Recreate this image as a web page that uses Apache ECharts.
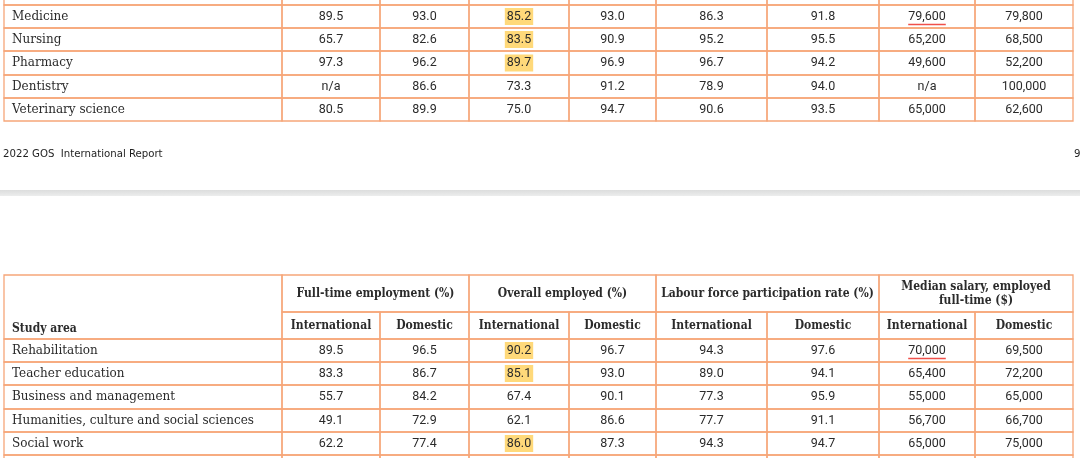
<!DOCTYPE html>
<html>
<head>
<meta charset="utf-8">
<script src="https://cdn.jsdelivr.net/npm/echarts@6/dist/echarts.min.js"></script>
<style>
  html, body { margin: 0; padding: 0; background: #fff; }
  #main { width: 1080px; height: 458px; }
</style>
</head>
<body>
<div id="main"></div>
<script>
/* global echarts */

// ---- data: end of previous table (top) ----
const topAreas = ['Medicine', 'Nursing', 'Pharmacy', 'Dentistry', 'Veterinary science'];
const topFtIntl = ['89.5', '65.7', '97.3', 'n/a', '80.5'];
const topFtDom = ['93.0', '82.6', '96.2', '86.6', '89.9'];
const topOeIntl = ['85.2', '83.5', '89.7', '73.3', '75.0'];
const topOeDom = ['93.0', '90.9', '96.9', '91.2', '94.7'];
const topLfIntl = ['86.3', '95.2', '96.7', '78.9', '90.6'];
const topLfDom = ['91.8', '95.5', '94.2', '94.0', '93.5'];
const topSalIntl = ['79,600', '65,200', '49,600', 'n/a', '65,000'];
const topSalDom = ['79,800', '68,500', '52,200', '100,000', '62,600'];
const topHighlight = [0, 1, 2];
const topUnderline = [0];

// ---- data: next table (bottom) ----
const groupHeaders = ['Full-time employment (%)', 'Overall employed (%)', 'Labour force participation rate (%)', 'Median salary, employed\nfull-time ($)'];
const subHeaders = ['International', 'Domestic'];
const bottomAreas = ['Rehabilitation', 'Teacher education', 'Business and management', 'Humanities, culture and social sciences', 'Social work'];
const botFtIntl = ['89.5', '83.3', '55.7', '49.1', '62.2'];
const botFtDom = ['96.5', '86.7', '84.2', '72.9', '77.4'];
const botOeIntl = ['90.2', '85.1', '67.4', '62.1', '86.0'];
const botOeDom = ['96.7', '93.0', '90.1', '86.6', '87.3'];
const botLfIntl = ['94.3', '89.0', '77.3', '77.7', '94.3'];
const botLfDom = ['97.6', '94.1', '95.9', '91.1', '94.7'];
const botSalIntl = ['70,000', '65,400', '55,000', '56,700', '65,000'];
const botSalDom = ['69,500', '72,200', '65,000', '66,700', '75,000'];
const bottomHighlight = [0, 1, 4];
const bottomUnderline = [0];

// ---- layout ----
const colEdges = [4, 282, 380, 469, 569, 656, 767, 879, 975, 1073];
const topRowEdges = [-20, 5, 28, 51, 75, 98, 121];
const bottomRowEdges = [275, 312, 339, 362, 385, 409, 432, 455, 490];

const BORDER = '#f6a679';
const TEXT = '#2b2b2b';
const SERIF = '"DejaVu Serif", serif';
const SERIF_HEAD = '"DejaVu Serif Condensed", "DejaVu Serif", serif';
const SANS = 'Roboto, "Liberation Sans", sans-serif';

const measureCtx = document.createElement('canvas').getContext('2d');
function textWidth (text, font) {
  measureCtx.font = font;
  return measureCtx.measureText(text).width;
}

// item: [col, row, colSpan, rowSpan, text, kind]
function bodyItems (areas, cols, firstRow, hl, ul) {
  const items = [];
  areas.forEach(function (area, i) {
    items.push([0, firstRow + i, 1, 1, area, 'label']);
    cols.forEach(function (col, c) {
      let kind = 'num';
      if (c === 2 && hl.indexOf(i) >= 0) kind = 'hl';
      if (c === 6 && ul.indexOf(i) >= 0) kind = 'ul';
      items.push([c + 1, firstRow + i, 1, 1, col[i], kind]);
    });
  });
  return items;
}

const topItems = [];
for (let c = 0; c < 9; c++) topItems.push([c, 0, 1, 1, '', 'num']);
bodyItems(topAreas,
  [topFtIntl, topFtDom, topOeIntl, topOeDom, topLfIntl, topLfDom, topSalIntl, topSalDom],
  1, topHighlight, topUnderline).forEach(function (it) { topItems.push(it); });

const bottomItems = [[0, 0, 1, 2, 'Study area', 'corner']];
groupHeaders.forEach(function (h, g) {
  bottomItems.push([1 + g * 2, 0, 2, 1, h, 'head']);
  subHeaders.forEach(function (s, k) {
    bottomItems.push([1 + g * 2 + k, 1, 1, 1, s, 'head']);
  });
});
bodyItems(bottomAreas,
  [botFtIntl, botFtDom, botOeIntl, botOeDom, botLfIntl, botLfDom, botSalIntl, botSalDom],
  2, bottomHighlight, bottomUnderline).forEach(function (it) { bottomItems.push(it); });
for (let c = 0; c < 9; c++) bottomItems.push([c, 7, 1, 1, '', 'num']);

function tableSeries (name, items, rowEdges) {
  return {
    name: name,
    type: 'custom',
    coordinateSystem: 'cartesian2d',
    silent: true,
    animation: false,
    clip: false,
    data: items.map(function (it) { return [it[0], it[1]]; }),
    renderItem: function (params, api) {
      const it = items[params.dataIndex];
      const c = it[0];
      const r = it[1];
      const p0 = api.coord([colEdges[c], rowEdges[r]]);
      const p1 = api.coord([colEdges[c + it[2]], rowEdges[r + it[3]]]);
      const text = it[4];
      const kind = it[5];
      const children = [{
        type: 'rect',
        shape: { x: p0[0], y: p0[1], width: p1[0] - p0[0], height: p1[1] - p0[1] },
        style: { fill: null, stroke: BORDER, lineWidth: 1.3 }
      }];
      const cx = (p0[0] + p1[0]) / 2;
      const cy = (p0[1] + p1[1]) / 2;
      if (kind === 'label') {
        children.push({
          type: 'text',
          style: { text: text, x: p0[0] + 8, y: cy, align: 'left', verticalAlign: 'middle', font: '12px ' + SERIF, fill: TEXT }
        });
      } else if (kind === 'corner') {
        children.push({
          type: 'text',
          style: { text: text, x: p0[0] + 8, y: p1[1] - 10, align: 'left', verticalAlign: 'middle', font: 'bold 12px ' + SERIF_HEAD, fill: TEXT }
        });
      } else if (kind === 'head') {
        children.push({
          type: 'text',
          style: { text: text, x: cx, y: cy, align: 'center', verticalAlign: 'middle', font: 'bold 12px ' + SERIF_HEAD, fill: TEXT, lineHeight: 14 }
        });
      } else if (text) {
        const font = '12.5px ' + SANS;
        const w = textWidth(text, font);
        if (kind === 'hl') {
          children.push({
            type: 'rect',
            shape: { x: cx - w / 2 - 2, y: cy - 8.5, width: w + 4, height: 17 },
            style: { fill: '#ffd97a' }
          });
        }
        children.push({
          type: 'text',
          style: { text: text, x: cx, y: cy, align: 'center', verticalAlign: 'middle', font: font, fill: TEXT }
        });
        if (kind === 'ul') {
          children.push({
            type: 'line',
            shape: { x1: cx - w / 2, y1: cy + 8, x2: cx + w / 2, y2: cy + 8 },
            style: { stroke: '#f0504a', lineWidth: 1.3 }
          });
        }
      }
      return { type: 'group', children: children };
    }
  };
}

const chart = echarts.init(document.getElementById('main'), null, { renderer: 'canvas' });

chart.setOption({
  backgroundColor: '#fff',
  animation: false,
  grid: { left: 0, right: 0, top: 0, bottom: 0 },
  xAxis: { type: 'value', min: 0, max: 1080, show: false },
  yAxis: { type: 'value', min: 0, max: 458, inverse: true, show: false },
  graphic: [
    {
      type: 'text',
      left: 3,
      top: 149,
      style: { text: '2022 GOS  International Report', font: '11.3px "DejaVu Sans Condensed", "DejaVu Sans", sans-serif', fill: '#1f1f1f' }
    },
    {
      type: 'text',
      left: 1074,
      top: 149,
      style: { text: '9', font: '11.3px "DejaVu Sans Condensed", "DejaVu Sans", sans-serif', fill: '#1f1f1f' }
    },
    {
      type: 'rect',
      left: 0,
      top: 190,
      shape: { width: 1080, height: 6 },
      style: {
        fill: new echarts.graphic.LinearGradient(0, 0, 0, 1, [
          { offset: 0, color: '#dcdddd' },
          { offset: 1, color: '#eceded' }
        ])
      }
    }
  ],
  series: [
    tableSeries('top', topItems, topRowEdges),
    tableSeries('bottom', bottomItems, bottomRowEdges)
  ]
});
</script>
</body>
</html>
